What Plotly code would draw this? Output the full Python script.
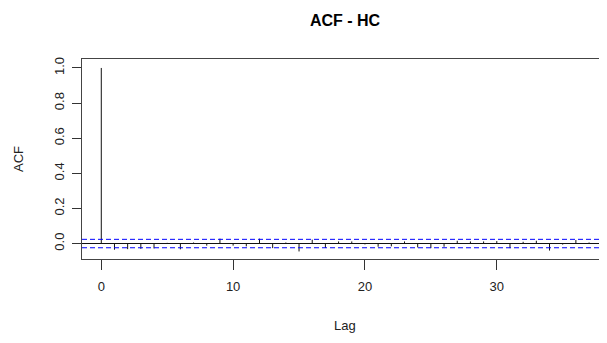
import plotly.graph_objects as go

lags = list(range(0, 38))
acf_values = [1.0, -0.035, -0.032, -0.030, -0.028, 0.004, -0.033, 0.006, -0.012, 0.028,
              -0.012, -0.016, 0.028, -0.026, 0.006, -0.045, 0.022, -0.025, 0.012, 0.012,
              -0.005, -0.018, -0.016, 0.012, -0.022, -0.026, -0.018, 0.016, 0.012, 0.012,
              0.014, -0.026, 0.010, 0.016, -0.040, -0.006, 0.020, 0.006]
ci_bound = 0.024
x_ticks = [0, 10, 20, 30]
y_ticks = [0.0, 0.2, 0.4, 0.6, 0.8, 1.0]
title_text = "ACF - HC"
x_title = "Lag"
y_title = "ACF"

xs, ys = [], []
for k, v in zip(lags, acf_values):
    xs += [k, k, None]
    ys += [0, v, None]

x_range = [-1.463, 38.36]
y_range = [-0.088, 1.051]

fig = go.Figure()
fig.add_trace(go.Scatter(x=xs, y=ys, mode="lines",
                         line=dict(color="#111", width=1), hoverinfo="skip",
                         showlegend=False))
for b in (ci_bound, -ci_bound):
    fig.add_trace(go.Scatter(x=x_range, y=[b, b], mode="lines",
                             line=dict(color="#0000ff", width=1, dash="5px,3px"),
                             hoverinfo="skip", showlegend=False))

font = "Liberation Sans, Arial, Helvetica, sans-serif"
fig.update_layout(
    width=599, height=335,
    margin=dict(l=74, r=0, t=51, b=84),
    paper_bgcolor="white", plot_bgcolor="white",
    font=dict(family=font, size=13, color="#222"),
    title=dict(text="<b>" + title_text + "</b>", x=0.5626, xanchor="center",
               y=0.964, yanchor="middle", font=dict(size=16, color="black")),
    xaxis=dict(range=x_range, tickvals=x_ticks, ticks="outside", ticklen=10,
               tickcolor="#333", showline=True, linecolor="#444", mirror=True,
               showgrid=False, zeroline=False, ticklabelstandoff=5,
               tickfont=dict(size=13)),
    yaxis=dict(range=y_range, tickvals=y_ticks, tickformat=".1f", tickangle=-90,
               ticks="outside", ticklen=9, tickcolor="#333",
               showline=True, linecolor="#444", mirror=False, ticklabelstandoff=3,
               showgrid=False, zeroline=True, zerolinecolor="#111", zerolinewidth=1,
               tickfont=dict(size=13)),
    annotations=[
        dict(text=x_title, xref="paper", yref="paper", x=0.501, y=0,
             xanchor="center", yanchor="middle", yshift=-66, showarrow=False,
             font=dict(size=13, color="#222")),
        dict(text=y_title, xref="paper", yref="paper", x=0, y=0.5,
             xanchor="center", yanchor="middle", xshift=-64, textangle=-90,
             showarrow=False, font=dict(size=13, color="#222")),
    ],
)
fig.write_html("out.html")
